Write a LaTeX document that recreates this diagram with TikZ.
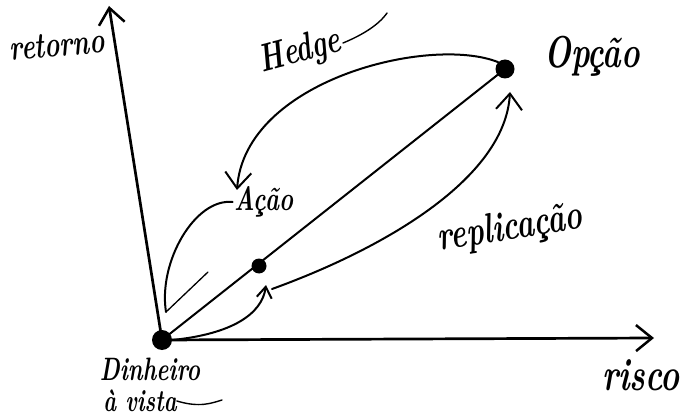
\documentclass[tikz,border=0pt]{standalone}
\usepackage{fontspec}
\usepackage{graphicx}
\usetikzlibrary{arrows.meta}
\newcommand\handtxt[2]{\scalebox{0.95}[1.35]{\fontsize{#1}{#1}\selectfont #2}}
\begin{document}
\begin{tikzpicture}[x=1pt,y=-1pt,
  dot/.style={circle,fill=black,inner sep=0pt},
  axisline/.style={line width=2.7pt, line cap=round, -{Straight Barb[length=16pt,width=26pt,line width=2.5pt]}},
  pen/.style={line width=2pt, line cap=round},
  penarrow/.style={pen, -{Straight Barb[length=16pt,width=26pt,line width=2pt]}},
  smallarrow/.style={pen, -{Straight Barb[length=11pt,width=15pt,line width=2pt]}},
  hand/.style={font=\bfseries\itshape, inner sep=0pt},
]
\useasboundingbox (0,0) rectangle (686,417);

% points
\node[dot, minimum size=20pt] (O) at (162,340) {};
\node[dot, minimum size=15pt] (A) at (259,266) {};
\node[dot, minimum size=19pt] (P) at (505,69) {};
\coordinate (ytip) at (109,6);
\coordinate (xtip) at (654,338);
\coordinate (hend) at (237,190);
\coordinate (rep) at (266,285);
\coordinate (Pin) at (510,92);
\coordinate (vtx) at (166,312);
\coordinate (acaotail) at (208,272);

% labels
\node[hand, rotate=5] (retorno) at (57,45) {\handtxt{27}{retorno}};
\node[hand, rotate=15] (hedge) at (300,52) {\handtxt{29}{Hedge}};
\node[hand] (opcao) at (592,56) {\handtxt{33}{Opção}};
\node[hand] (acao) at (264,202) {\handtxt{25}{Ação}};
\node[hand, rotate=9] (replic) at (510,229) {\handtxt{31}{replicação}};
\node[hand] (risco) at (641,375) {\handtxt{34}{risco}};
\node[hand] (dinheiro) at (150,369) {\handtxt{24}{Dinheiro}};
\node[hand] (vista) at (140,401) {\handtxt{23}{à vista}};

% axes
\draw[axisline] (O.center) -- (ytip);
\draw[axisline] (O.center) -- (xtip);

% main line
\draw[pen] (O.center) -- (P.center);

% hedge
\draw[penarrow] (P.north west) .. controls (430,35) and (245,80) .. (hend);
\draw[line width=1.4pt, line cap=round] (343,43) .. controls (360,36) and (378,26) .. (387,13);

% acao bracket
\draw[pen] ([xshift=-2pt]acao.west) .. controls (195,198) and (158,262) .. (vtx);
\draw[line width=1.3pt, line cap=round] (vtx) -- (acaotail);

% replicacao
\draw[smallarrow] (O.east) .. controls (232,334) and (262,314) .. (rep);
\draw[penarrow] ([shift={(6,4)}]rep) .. controls (380,250) and (505,180) .. (Pin);

% vista tail
\draw[line width=1.4pt, line cap=round] (vista.east) .. controls (200,408) and (212,403) .. (222,400);
\end{tikzpicture}
\end{document}
